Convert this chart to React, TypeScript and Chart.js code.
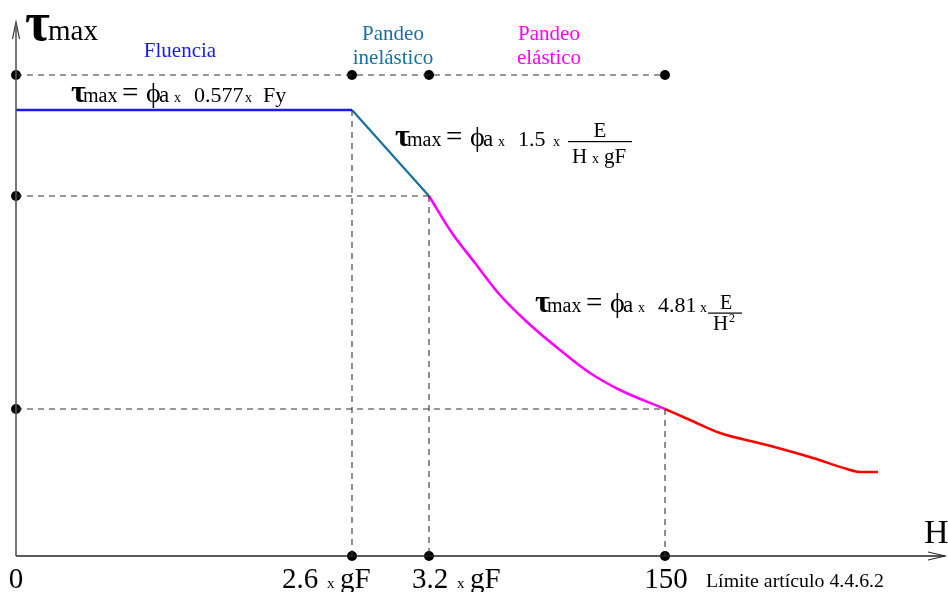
import React, { useEffect, useRef } from "react";
import { Chart, registerables } from "chart.js";
Chart.register(...registerables);

// Schematic units (H axis 0..932, tau axis 0..556)
const markerX = [0, 336, 413, 649]; // H = 0, 2.6·gF, 3.2·gF, 150
const topLevel = 481;
const yieldLevel = 446;
const inelasticEndLevel = 360;
const elasticEndLevel = 147;
const fluenciaX = [0, 336];
const fluenciaY = [446, 446];
const inelasticX = [336, 413];
const inelasticY = [446, 360];
const elasticX = [413, 436, 459, 484, 511, 544, 574, 604, 649];
const elasticY = [360, 323, 293, 261, 234, 206, 183, 166, 147];
const beyondX = [649, 674, 704, 751, 797, 831, 844, 862];
const beyondY = [147, 136, 123, 111, 98, 87, 84, 84];
const tickLabels = ["0", "2.6", "3.2", "150"];
const X_MAX = 932;
const Y_MAX = 556;
const AXIS_TOP = 534;
const AXIS_RIGHT = 929;

const zip = (xs: number[], ys: number[]) => xs.map((x, i) => ({ x, y: ys[i] }));

const FONT = '"Liberation Serif", "DejaVu Serif", serif';

// piece: [text, font size, x offset from origin, weight?]
type Piece = [string, number, number, string?];

function drawPieces(ctx: CanvasRenderingContext2D, x: number, y: number, pieces: Piece[]) {
  for (const [t, s, dx, w] of pieces) {
    ctx.font = `${w || ""} ${s}px ${FONT}`;
    ctx.fillText(t, x + dx, y);
  }
}

const formulaHead = (num: string): Piece[] => [
  ["τ", 32, 0, "bold"],
  ["max", 20, 12],
  ["=", 29, 51],
  ["ϕ", 28, 75],
  ["a", 23, 88],
  ["x", 14, 103],
  [num, 22, 123],
];

const textPlugin = {
  id: "texts",
  afterDraw(chart: any) {
    const ctx: CanvasRenderingContext2D = chart.ctx;
    const xs = chart.scales.x;
    const ys = chart.scales.y;
    const px = (v: number) => xs.getPixelForValue(v);
    const py = (v: number) => ys.getPixelForValue(v);
    ctx.save();
    ctx.textBaseline = "alphabetic";
    ctx.textAlign = "left";
    ctx.fillStyle = "#000";

    // axis title tau max
    drawPieces(ctx, px(0) + 9, 40, [
      ["τ", 54, 0, "bold"],
      ["max", 29, 23],
    ]);
    // H
    ctx.font = `34px ${FONT}`;
    ctx.fillText("H", px(X_MAX) - 24, py(13));

    // region labels
    ctx.textAlign = "center";
    ctx.font = `21px ${FONT}`;
    ctx.fillStyle = "#1a1aef";
    ctx.fillText("Fluencia", 180, 57);
    ctx.fillStyle = "#17709e";
    ctx.fillText("Pandeo", 393, 40);
    ctx.fillText("inelástico", 393, 64);
    ctx.fillStyle = "#ff00ff";
    ctx.fillText("Pandeo", 549, 40);
    ctx.fillText("elástico", 549, 64);
    ctx.textAlign = "left";
    ctx.fillStyle = "#000";

    // formula 1
    drawPieces(ctx, 71, py(yieldLevel) - 8, [...formulaHead("0.577"), ["x", 14, 174], ["Fy", 22, 192]]);

    // formula 2
    drawPieces(ctx, 395, 146, [...formulaHead("1.5"), ["x", 14, 158]]);
    {
      const fx = 568;
      const fw = 64;
      ctx.fillRect(fx, 141, fw, 1.2);
      ctx.textAlign = "center";
      ctx.font = `21px ${FONT}`;
      ctx.fillText("E", fx + fw / 2, 137);
      ctx.textAlign = "left";
      drawPieces(ctx, fx + 4, 163, [
        ["H", 21, 0],
        ["x", 14, 20],
        ["gF", 21, 32],
      ]);
    }

    // formula 3
    drawPieces(ctx, 535, 312, [...formulaHead("4.81"), ["x", 14, 165]]);
    {
      const fx = 708;
      const fw = 34;
      ctx.fillRect(fx, 312.5, fw, 1.2);
      ctx.font = `20px ${FONT}`;
      ctx.fillText("E", fx + 12, 309);
      ctx.font = `21px ${FONT}`;
      ctx.fillText("H", fx + 5, 330);
      ctx.font = `12px ${FONT}`;
      ctx.fillText("2", fx + 21, 322);
    }

    // x tick labels
    const base = 588;
    ctx.font = `29px ${FONT}`;
    ctx.textAlign = "center";
    ctx.fillText(tickLabels[0], px(markerX[0]), base);
    ctx.fillText(tickLabels[3], px(markerX[3]) + 1, base);
    ctx.textAlign = "left";
    drawPieces(ctx, px(markerX[1]) - 70, base, [
      [tickLabels[1], 29, 0],
      ["x", 15, 45],
      ["gF", 29, 58],
    ]);
    drawPieces(ctx, px(markerX[2]) - 17, base, [
      [tickLabels[2], 29, 0],
      ["x", 15, 45],
      ["gF", 29, 58],
    ]);
    // limit note (condensed)
    ctx.save();
    ctx.font = `19px ${FONT}`;
    const note = "Límite artículo 4.4.6.2";
    const nw = ctx.measureText(note).width;
    ctx.translate(px(markerX[3]) + 41, base - 1);
    ctx.scale(178 / nw, 1);
    ctx.fillText(note, 0, 0);
    ctx.restore();

    ctx.restore();
  },
};

export default function App() {
  const ref = useRef<HTMLCanvasElement | null>(null);
  useEffect(() => {
    document.body.style.margin = "0";
    const canvas = ref.current!;
    const dash = [6, 5];
    const dashColor = "#333";
    const dashed = (pts: { x: number; y: number }[]) => ({
      type: "line" as const,
      data: pts,
      borderColor: dashColor,
      borderWidth: 1.1,
      borderDash: dash,
      pointRadius: 0,
      tension: 0,
      clip: false as any,
    });
    const solid = (pts: { x: number; y: number }[], color: string, width: number, tension = 0) => ({
      type: "line" as const,
      data: pts,
      borderColor: color,
      borderWidth: width,
      pointRadius: 0,
      tension,
      cubicInterpolationMode: tension ? ("monotone" as const) : ("default" as const),
      clip: false as any,
    });
    const dots = [
      { x: 0, y: topLevel },
      { x: 0, y: inelasticEndLevel },
      { x: 0, y: elasticEndLevel },
      ...markerX.slice(1).map((x) => ({ x, y: topLevel })),
      ...markerX.slice(1).map((x) => ({ x, y: 0 })),
    ];
    const chart = new Chart(canvas, {
      type: "line",
      data: {
        datasets: [
          dashed([{ x: 0, y: topLevel }, { x: markerX[3], y: topLevel }]),
          dashed([{ x: 0, y: inelasticEndLevel }, { x: markerX[2], y: inelasticEndLevel }]),
          dashed([{ x: 0, y: elasticEndLevel }, { x: markerX[3], y: elasticEndLevel }]),
          dashed([{ x: markerX[1], y: yieldLevel }, { x: markerX[1], y: 0 }]),
          dashed([{ x: markerX[2], y: inelasticEndLevel }, { x: markerX[2], y: 0 }]),
          dashed([{ x: markerX[3], y: elasticEndLevel }, { x: markerX[3], y: 0 }]),
          // axes
          solid([{ x: 0, y: 0 }, { x: 0, y: AXIS_TOP }], "#555", 1.6),
          solid([{ x: -3.5, y: AXIS_TOP - 17 }, { x: 0, y: AXIS_TOP }, { x: 3.5, y: AXIS_TOP - 17 }], "#333", 1.2),
          solid([{ x: 0, y: 0 }, { x: AXIS_RIGHT, y: 0 }], "#222", 1.4),
          solid([{ x: AXIS_RIGHT - 17, y: 4 }, { x: AXIS_RIGHT, y: 0 }, { x: AXIS_RIGHT - 17, y: -4 }], "#333", 1.2),
          // curve
          solid(zip(fluenciaX, fluenciaY), "#1a1aef", 2.5),
          solid(zip(inelasticX, inelasticY), "#17709e", 2.2),
          solid(zip(elasticX, elasticY), "#ff00ff", 2.6, 0.4),
          solid(zip(beyondX, beyondY), "#ff0000", 2.6, 0.4),
          {
            type: "scatter" as const,
            data: dots,
            pointRadius: 5,
            pointBackgroundColor: "#000",
            pointBorderColor: "#000",
            borderWidth: 0,
            showLine: false,
            clip: false as any,
          } as any,
        ] as any,
      },
      options: {
        animation: false,
        responsive: false,
        devicePixelRatio: 1,
        layout: { autoPadding: false, padding: { left: 16, right: 0, top: 0, bottom: 36 } },
        plugins: { legend: { display: false }, tooltip: { enabled: false } },
        events: [],
        scales: {
          x: { type: "linear", min: 0, max: X_MAX, display: false },
          y: { type: "linear", min: 0, max: Y_MAX, display: false },
        },
      } as any,
      plugins: [textPlugin],
    });
    return () => chart.destroy();
  }, []);
  return (
    <div style={{ width: 948, height: 592, background: "#fff" }}>
      <canvas ref={ref} width={948} height={592} style={{ display: "block" }} />
    </div>
  );
}
